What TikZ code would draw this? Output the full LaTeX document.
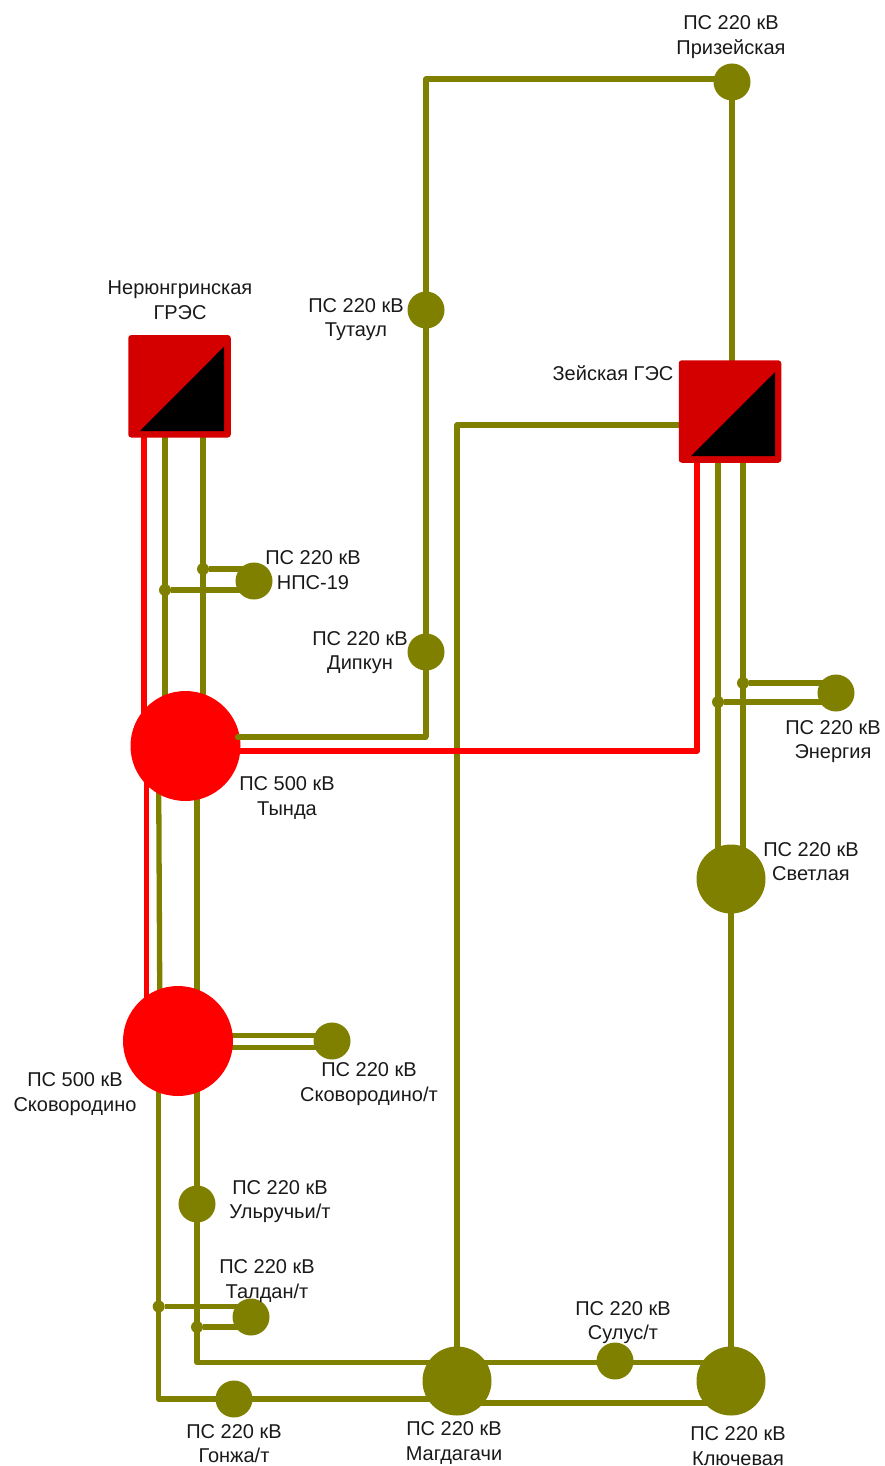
\documentclass[tikz,border=0pt]{standalone}
\usepackage{fontspec}
\setmainfont{Liberation Sans}
\usetikzlibrary{backgrounds}
\definecolor{ol}{HTML}{808000}
\definecolor{rd}{HTML}{FF0000}
\definecolor{boxred}{HTML}{D40000}
\tikzset{
  olline/.style={draw=ol,line width=5.3pt,line join=round},
  redline/.style={draw=rd,line width=5.3pt,line join=round},
  big/.style={circle,fill=rd,draw=none,minimum size=110pt,inner sep=0pt},
  mid/.style={circle,fill=ol,draw=none,minimum size=69pt,inner sep=0pt},
  small/.style={circle,fill=ol,draw=none,minimum size=37pt,inner sep=0pt},
  junct/.style={circle,fill=ol,draw=none,minimum size=12pt,inner sep=0pt},
  plant/.style={rectangle,fill=boxred,draw=none,rounded corners=3pt,minimum size=102.5pt,inner sep=0pt},
  lbl/.style={align=center,inner sep=0pt,font=\fontsize{20}{24.5}\selectfont,text=black!90}
}
\begin{document}
\begin{tikzpicture}[x=1pt,y=-1pt]
\useasboundingbox (0,0) rectangle (884,1466);
% plants
\node[plant] (ner) at (179.5,386.3) {};
\fill[black] ([xshift=-39.5pt,yshift=-44.7pt]ner.center) -- ([xshift=44.5pt,yshift=39.6pt]ner.center) -- ([xshift=44.5pt,yshift=-44.7pt]ner.center) -- cycle;
\node[plant] (zey) at (730,411.5) {};
\fill[black] ([xshift=-39pt,yshift=-44.5pt]zey.center) -- ([xshift=45pt,yshift=39.5pt]zey.center) -- ([xshift=45pt,yshift=-44.5pt]zey.center) -- cycle;
% substations
\node[big] (tyn) at (185.5,746) {};
\node[big] (skv) at (178,1041) {};
\node[mid] (svt) at (731,879) {};
\node[mid] (mag) at (457,1381) {};
\node[mid] (klu) at (731,1381) {};
\node[small] (pri) at (732,82) {};
\node[small] (tut) at (426,310) {};
\node[small] (dip) at (426,652) {};
\node[small] (nps) at (254,581) {};
\node[small] (ene) at (836,693) {};
\node[small] (skt) at (332,1041) {};
\node[small] (ulr) at (197,1204) {};
\node[small] (tal) at (251,1317) {};
\node[small] (gon) at (234,1399) {};
\node[small] (sul) at (615,1361) {};
% junctions
\node[junct] (j1) at (203,569) {};
\node[junct] (j2) at (165,590) {};
\node[junct] (j3) at (743,683) {};
\node[junct] (j4) at (718,702) {};
\node[junct] (j5) at (158.7,1306.5) {};
\node[junct] (j6) at (197,1327) {};
% corners
\coordinate (c1) at (426,79);
\coordinate (c2) at (426,737);
\coordinate (c3) at (457,425);
\coordinate (c4) at (697,751);
\coordinate (c5) at (197,1362.5);
\coordinate (c6) at (158.7,1399);
\begin{scope}[on background layer]
% Neryungri - Tynda
\draw[redline] ([xshift=-35.5pt]ner.center) -- ([xshift=-41.5pt]tyn.center);
\draw[olline] (ner.center -| j2) -- (tyn.center -| j2);
\draw[olline] (ner.center -| j1) -- (tyn.center -| j1);
\draw[olline] (j1) -- (j1 -| nps);
\draw[olline] (j2) -- (j2 -| nps);
% Tynda - Skovorodino
\draw[redline] ([xshift=-39pt]tyn.center) -- ([xshift=-31.5pt]skv.center);
\draw[olline] ([xshift=-27pt]tyn.center) -- ([xshift=-18pt]skv.center);
\draw[olline] (tyn.center -| j6) -- (skv.center -| j6);
% Skovorodino branches
\draw[olline] ([yshift=5.5pt]skv.center) -- ([yshift=5.5pt]skt.center);
\draw[olline] ([yshift=-6.5pt]skv.center) -- ([yshift=-6.5pt]skt.center);
\draw[olline] (skv.center -| c6) -- (c6) -- (gon.center) -- (c6 -| mag);
\draw[olline] (skv.center -| c5) -- (c5) -- (c5 -| mag);
\draw[olline] (j5) -- (j5 -| tal);
\draw[olline] (j6) -- (j6 -| tal);
% Magdagachi
\draw[olline] (c5 -| mag) -- (c5 -| klu);
\draw[olline] ([yshift=-22pt]mag.center) -- ([yshift=-22pt]klu.center);
\draw[olline] (mag.center) -- (c3) -- ([yshift=-13.5pt,xshift=0pt]zey.center);
% Zeya
\draw[olline] (pri.center) -- ([xshift=2pt]zey.center);
\draw[olline] (pri.center) -- (pri.center |- c1) -- (c1) -- (c2);
\draw[redline] (zey.center -| c4) -- (c4) -- (c4 -| tyn);
\draw[olline] (zey.center -| j4) -- (svt.center -| j4);
\draw[olline] (zey.center -| j3) -- (svt.center -| j3);
\draw[olline] (j3) -- (j3 -| ene);
\draw[olline] (j4) -- (j4 -| ene);
\draw[olline] (svt.center) -- (klu.center);
\end{scope}
% Tynda - Tutaul line runs over the circle
\draw[olline,line cap=round] ([xshift=52pt,yshift=9pt]tyn.center) -- (c2);
% labels
\node[lbl] (l1) at (731,37) {ПС 220 кВ\\Призейская};
\node[lbl] (l2) at (356,319.5) {ПС 220 кВ\\Тутаул};
\node[lbl] (l3) at (180,300) {Нерюнгринская\\ГРЭС};
\node[lbl] (l4) at (613,373) {Зейская ГЭС};
\node[lbl] (l5) at (313,570) {ПС 220 кВ\\НПС-19};
\node[lbl] (l6) at (360,652.5) {ПС 220 кВ\\Дипкун};
\node[lbl] (l7) at (833,741.5) {ПС 220 кВ\\Энергия};
\node[lbl] (l8) at (287,798) {ПС 500 кВ\\Тында};
\node[lbl] (l9) at (811,861.5) {ПС 220 кВ\\Светлая};
\node[lbl] (l10) at (75,1094) {ПС 500 кВ\\Сковородино};
\node[lbl] (l11) at (369,1084) {ПС 220 кВ\\Сковородино/т};
\node[lbl] (l12) at (280,1201.5) {ПС 220 кВ\\Ульручьи/т};
\node[lbl] (l13) at (267,1281) {ПС 220 кВ\\Талдан/т};
\node[lbl] (l14) at (623,1322.5) {ПС 220 кВ\\Сулус/т};
\node[lbl] (l15) at (234,1443.5) {ПС 220 кВ\\Гонжа/т};
\node[lbl] (l16) at (454,1443) {ПС 220 кВ\\Магдагачи};
\node[lbl] (l17) at (738,1446) {ПС 220 кВ\\Ключевая};
\end{tikzpicture}
\end{document}
